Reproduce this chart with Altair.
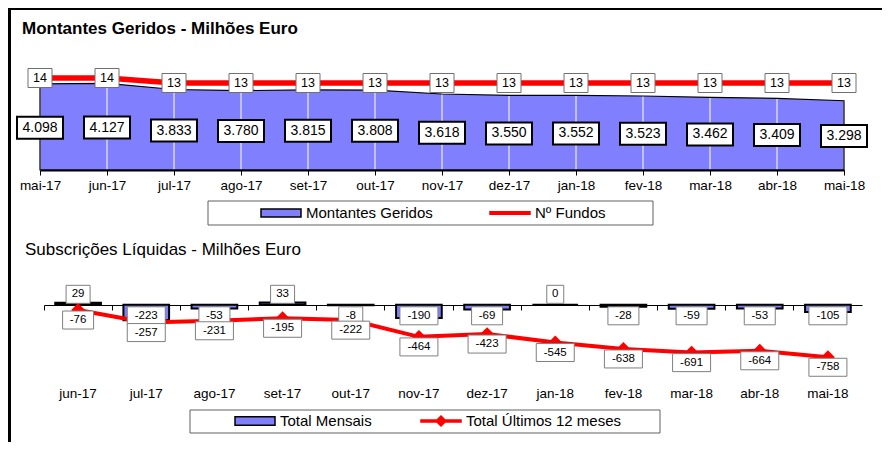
import altair as alt
import pandas as pd

# ---------------- data ----------------
months = ["mai-17", "jun-17", "jul-17", "ago-17", "set-17", "out-17", "nov-17",
          "dez-17", "jan-18", "fev-18", "mar-18", "abr-18", "mai-18"]
montantes = [4098, 4127, 3833, 3780, 3815, 3808, 3618, 3550, 3552, 3523, 3462, 3409, 3298]
fundos = [14, 14, 13, 13, 13, 13, 13, 13, 13, 13, 13, 13, 13]

months_sub = months[1:]
mensais = [29, -223, -53, 33, -8, -190, -69, 0, -28, -59, -53, -105]
ultimos12 = [-76, -257, -231, -195, -222, -464, -423, -545, -638, -691, -664, -758]

top_series = ["Montantes Geridos", "Nº Fundos"]
sub_series = ["Total Mensais", "Total Últimos 12 meses"]
title_top = "Montantes Geridos - Milhões Euro"
title_sub = "Subscrições Líquidas - Milhões Euro"

# ---------------- style ----------------
W, H = 874, 434
BLUE = "#8080FF"
RED = "#FF0000"
FONT = "Liberation Sans"


def box(w, h):
    a = h / w
    return f"M-1,-{a:.4f}L1,-{a:.4f}L1,{a:.4f}L-1,{a:.4f}Z"


# ---------------- top chart ----------------
top = pd.DataFrame({
    "month": months,
    "montantes": montantes,
    "fundos": fundos,
    "lbl": [f"{v:,}".replace(",", ".") for v in montantes],
})

x_top_scale = alt.Scale(type="point", domain=months, range=[32, 836], padding=0)
y_mont = alt.Scale(domain=[0, 5000], range=[162, 57])
y_fund = alt.Scale(domain=[-4.4, 16.6], range=[162, 57])

xt = alt.X("month:N", scale=x_top_scale, axis=None)
xt_axis = alt.X("month:N", scale=x_top_scale, axis=alt.Axis(
    orient="bottom", offset=162 - H, title=None, grid=False, zindex=1,
    domainColor="black", domainWidth=2, tickColor="black", tickSize=5, tickWidth=1,
    labelFont=FONT, labelFontSize=13.5, labelColor="black", labelPadding=3, labelAngle=0))

tbase = alt.Chart(top)
area_fill = tbase.mark_area(color=BLUE).encode(
    x=xt_axis, y=alt.Y("montantes:Q", scale=y_mont, axis=None))
drop = tbase.mark_rule(color="white", strokeWidth=1).encode(
    x=xt, y=alt.Y("montantes:Q", scale=y_mont, axis=None), y2=alt.datum(0))
area_line = tbase.mark_area(fillOpacity=0, stroke="black", strokeWidth=1.2).encode(
    x=xt, y=alt.Y("montantes:Q", scale=y_mont, axis=None))
fund_line = tbase.mark_line(color=RED, strokeWidth=5.5).encode(
    x=xt, y=alt.Y("fundos:Q", scale=y_fund, axis=None))
fund_box = tbase.mark_point(shape=box(24, 19), size=24 * 24, filled=True, fill="white",
                            stroke="#707070", strokeWidth=1, opacity=1).encode(
    x=xt, y=alt.Y("fundos:Q", scale=y_fund, axis=None))
fund_txt = tbase.mark_text(font=FONT, fontSize=12.5, color="black").encode(
    x=xt, y=alt.Y("fundos:Q", scale=y_fund, axis=None), text="fundos:Q")
val_box = tbase.transform_calculate(ly="datum.montantes * 0.49").mark_point(
    shape=box(46, 22), size=46 * 46, filled=True, fill="white",
    stroke="black", strokeWidth=2, opacity=1).encode(
    x=xt, y=alt.Y("ly:Q", scale=y_mont, axis=None))
val_txt = tbase.transform_calculate(ly="datum.montantes * 0.49").mark_text(
    font=FONT, fontSize=14, color="black").encode(
    x=xt, y=alt.Y("ly:Q", scale=y_mont, axis=None), text="lbl:N")

# ---------------- bottom chart ----------------
sub = pd.DataFrame({"month": months_sub, "mensais": mensais, "ult": ultimos12})
xb_bar = alt.Scale(type="band", domain=months_sub, range=[36, 854],
                   paddingInner=0.33, paddingOuter=0.165)
xb_scale = alt.Scale(type="band", domain=months_sub, range=[36, 854],
                     paddingInner=0, paddingOuter=0)
yb = alt.Scale(domain=[-1000, 400], range=[366, 269])
xb = alt.X("month:N", scale=xb_scale, axis=None)

sbase = alt.Chart(sub)
bars = sbase.mark_bar(color=BLUE, stroke="black", strokeWidth=2).encode(
    x=alt.X("month:N", scale=xb_bar, axis=None),
    y=alt.Y("mensais:Q", scale=yb, axis=None), y2=alt.datum(0))
line12 = sbase.mark_line(color=RED, strokeWidth=4).encode(
    x=alt.X("month:N", scale=xb_scale, axis=alt.Axis(
        orient="bottom", offset=375 - H, title=None, grid=False, domain=False,
        ticks=False, tickSize=0, labelPadding=3, labelFont=FONT, labelFontSize=13.5,
        labelColor="black", labelAngle=0)),
    y=alt.Y("ult:Q", scale=yb, axis=None))
diam = sbase.mark_point(shape="diamond", size=190, filled=True, color=RED, opacity=1).encode(
    x=alt.X("month:N", scale=xb_scale, axis=alt.Axis(
        orient="bottom", offset=297 - H, title=None, grid=False, labels=False,
        bandPosition=0, ticks=True, tickSize=5, tickColor="black",
        domain=True, domainColor="black", domainWidth=1)),
    y=alt.Y("ult:Q", scale=yb, axis=None))

rows = []
for m, v in zip(months_sub, mensais):
    rows.append({"month": m, "txt": str(v), "ypos": 150 if v >= 0 else -160})
for m, v in zip(months_sub, ultimos12):
    rows.append({"month": m, "txt": str(v), "ypos": v - 145})
lab = pd.DataFrame(rows)
lab["n"] = lab["txt"].str.len()

lab_layers = []
for n in sorted(lab["n"].unique()):
    w = 10 + 7 * int(n)
    lab_layers.append(
        alt.Chart(lab).transform_filter(f"datum.n == {int(n)}").mark_point(
            shape=box(w, 18), size=w * w, filled=True, fill="white",
            stroke="#7f7f7f", strokeWidth=1, opacity=1).encode(
            x=xb, y=alt.Y("ypos:Q", scale=yb, axis=None)))
lab_txt = alt.Chart(lab).mark_text(font=FONT, fontSize=11.5, color="black").encode(
    x=xb, y=alt.Y("ypos:Q", scale=yb, axis=None), text="txt:N")

# ---------------- legends ----------------
leg_top = alt.Legend(title=None, orient="none", legendX=252, legendY=184,
                     direction="horizontal", labelFont=FONT, labelFontSize=15,
                     labelColor="black", columnPadding=54, symbolSize=1600,
                     labelOffset=4, padding=0)
top_leg = alt.Chart(pd.DataFrame({"serie_top": top_series})).transform_filter(
    "false").mark_point(opacity=1, filled=True, strokeWidth=2).encode(
    fill=alt.Fill("serie_top:N", scale=alt.Scale(domain=top_series, range=[BLUE, RED]),
                  legend=leg_top),
    stroke=alt.Stroke("serie_top:N", scale=alt.Scale(domain=top_series, range=["black", RED]),
                      legend=leg_top),
    shape=alt.Shape("serie_top:N", scale=alt.Scale(
        domain=top_series, range=[box(40, 8), box(40, 2.5)]), legend=leg_top))

leg_sub = alt.Legend(title=None, orient="none", legendX=226, legendY=392,
                     direction="horizontal", labelFont=FONT, labelFontSize=15,
                     labelColor="black", columnPadding=46, symbolSize=1600,
                     labelOffset=4, padding=0)
line_sym = ("M-1,-0.05L1,-0.05L1,0.05L-1,0.05Z"
            "M-0.25,0L0,-0.25L0.25,0L0,0.25Z")
sub_leg = alt.Chart(pd.DataFrame({"serie_sub": sub_series})).transform_filter(
    "false").mark_point(opacity=1, filled=True, strokeWidth=2).encode(
    fill=alt.Fill("serie_sub:N", scale=alt.Scale(domain=sub_series, range=[BLUE, RED]),
                  legend=leg_sub),
    stroke=alt.Stroke("serie_sub:N", scale=alt.Scale(domain=sub_series, range=["black", RED]),
                      legend=leg_sub),
    shape=alt.Shape("serie_sub:N", scale=alt.Scale(
        domain=sub_series, range=[box(38, 8), line_sym]), legend=leg_sub))

# ---------------- decorations ----------------
deco = alt.Chart(pd.DataFrame({"d": [0]}))
border_left = deco.mark_rule(color="black", strokeWidth=3).encode(
    x=alt.value(1.5), y=alt.value(0), y2=alt.value(H))
border_top = deco.mark_rule(color="black", strokeWidth=2).encode(
    x=alt.value(0), x2=alt.value(W), y=alt.value(1))
frame_top = deco.mark_rect(fillOpacity=0, stroke="#606060", strokeWidth=1).encode(
    x=alt.value(200), x2=alt.value(645), y=alt.value(193), y2=alt.value(217))
frame_sub = deco.mark_rect(fillOpacity=0, stroke="#606060", strokeWidth=1).encode(
    x=alt.value(182), x2=alt.value(652), y=alt.value(402), y2=alt.value(425))
t1 = deco.mark_text(align="left", baseline="alphabetic", font=FONT, fontSize=17,
                    fontWeight="bold", color="black").encode(
    x=alt.value(14), y=alt.value(26), text=alt.value(title_top))
t2 = deco.mark_text(align="left", baseline="alphabetic", font=FONT, fontSize=17,
                    color="black").encode(
    x=alt.value(17), y=alt.value(247), text=alt.value(title_sub))

chart = alt.layer(
    border_left, border_top, frame_top, frame_sub, t1, t2,
    area_fill, drop, area_line, fund_line, fund_box, fund_txt, val_box, val_txt,
    bars, line12, diam, *lab_layers, lab_txt,
    top_leg, sub_leg,
).resolve_scale(
    x="independent", y="independent",
    fill="independent", stroke="independent", shape="independent",
).resolve_legend(
    fill="independent", stroke="independent", shape="independent",
).properties(
    width=W, height=H, padding=0,
    autosize=alt.AutoSizeParams(type="none"),
    background="white",
).configure_view(strokeWidth=0)

chart.save("out.html", embed_options={"renderer": "svg", "actions": False})
